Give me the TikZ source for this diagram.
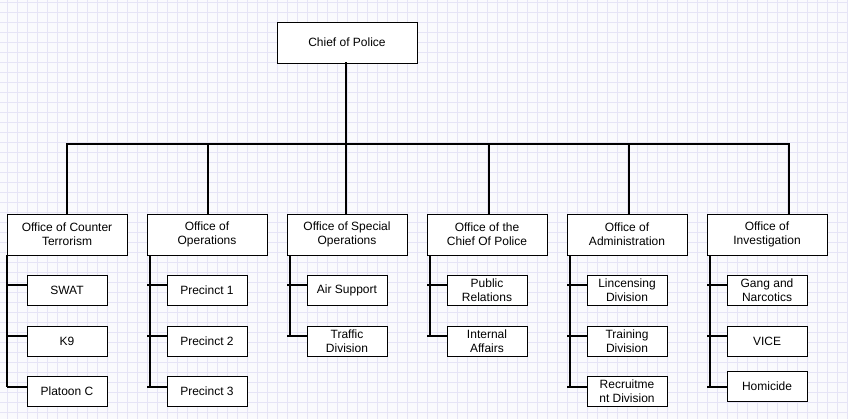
\documentclass[tikz,border=0pt]{standalone}
\usepackage{fontspec}
\setmainfont{Liberation Sans}
\definecolor{gridc}{RGB}{230,228,246}
\definecolor{bgc}{RGB}{250,250,253}
\begin{document}
\begin{tikzpicture}[x=0.75pt,y=-0.75pt,
  box/.style={draw=black,line width=0.75pt,fill=white,inner sep=0pt,align=center,font=\fontsize{9pt}{10.5pt}\selectfont},
  chiefbox/.style={box,minimum width=105pt,minimum height=30.75pt},
  officebox/.style={box,minimum width=90pt,minimum height=30.75pt},
  childbox/.style={box,minimum width=60pt,minimum height=22.5pt},
  conn/.style={line width=1.6pt,line cap=rect}]
\useasboundingbox (0,0) rectangle (848,419);
\fill[bgc] (0,0) rectangle (848,419);
\foreach \gx in {7,17,...,847} \draw[gridc,line width=0.75pt] (\gx,0) -- (\gx,419);
\foreach \gy in {2,12,...,412} \draw[gridc,line width=0.75pt] (0,\gy) -- (848,\gy);

% chief
\node[chiefbox] (chief) at (347,42.5) {Chief of Police};
% offices
\node[officebox] (o1) at (67,234.5) {Office of Counter\\Terrorism};
\node[officebox] (o2) at (207,234.5) {Office of\\Operations};
\node[officebox] (o3) at (347,234.5) {Office of Special\\Operations};
\node[officebox] (o4) at (487,234.5) {Office of the\\Chief Of Police};
\node[officebox] (o5) at (627,234.5) {Office of\\Administration};
\node[officebox] (o6) at (767,234.5) {Office of\\Investigation};
% children
\node[childbox] (c11) at (67,290) {SWAT};
\node[childbox] (c12) at (67,341) {K9};
\node[childbox] (c13) at (67,391) {Platoon C};
\node[childbox] (c21) at (207,290) {Precinct 1};
\node[childbox] (c22) at (207,341) {Precinct 2};
\node[childbox] (c23) at (207,391) {Precinct 3};
\node[childbox] (c31) at (347,290) {Air Support};
\node[childbox] (c32) at (347,341) {Traffic\\Division};
\node[childbox] (c41) at (487,290) {Public\\Relations};
\node[childbox] (c42) at (487,341) {Internal\\Affairs};
\node[childbox] (c51) at (627,290) {Lincensing\\Division};
\node[childbox] (c52) at (627,341) {Training\\Division};
\node[childbox] (c53) at (627,391) {Recruitme\\nt Division};
\node[childbox] (c61) at (767,290) {Gang and\\Narcotics};
\node[childbox] (c62) at (767,341) {VICE};
\node[childbox] (c63) at (767,386) {Homicide};

% bus
\coordinate (b1) at (67,144);
\coordinate (b2) at (208,144);
\coordinate (b3) at (346,144);
\coordinate (b4) at (489,144);
\coordinate (b5) at (629,144);
\coordinate (b6) at (789,144);
\draw[conn] (chief.south -| b3) -- (b3);
\draw[conn] (b1) -- (b6);
\foreach \i in {1,...,6} \draw[conn] (b\i) -- (b\i |- o\i.north);

% spines and ticks
\coordinate (s1) at (7,255);   \coordinate (t1) at (7,0);
\coordinate (s2) at (150,255); \coordinate (t2) at (147,0);
\coordinate (s3) at (290,255); \coordinate (t3) at (287,0);
\coordinate (s4) at (430,255); \coordinate (t4) at (427,0);
\coordinate (s5) at (570,255); \coordinate (t5) at (567,0);
\coordinate (s6) at (710,255); \coordinate (t6) at (707,0);
\coordinate (y1) at (0,285);
\coordinate (y2) at (0,336);
\coordinate (y3) at (0,387);
% spines
\draw[conn,line cap=butt] (s1) -- (s1 |- y3);
\draw[conn,line cap=butt] (s2) -- (s2 |- y3);
\draw[conn,line cap=butt] (s3) -- (s3 |- y2);
\draw[conn,line cap=butt] (s4) -- (s4 |- y2);
\draw[conn,line cap=butt] (s5) -- (s5 |- y3);
\draw[conn,line cap=butt] (s6) -- (s6 |- y3);
% ticks
\foreach \c/\r in {1/1,1/2,1/3,2/1,2/2,2/3,3/1,3/2,4/1,4/2,5/1,5/2,5/3,6/1,6/2,6/3}
  \draw[conn,line cap=butt] (t\c |- y\r) -- (c\c\r.west |- y\r);
\end{tikzpicture}
\end{document}
